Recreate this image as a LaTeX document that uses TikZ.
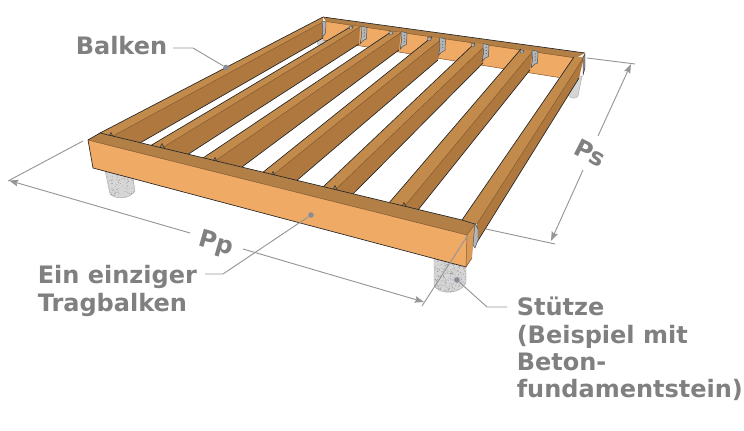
\documentclass[tikz,border=0pt]{standalone}
\usepackage{fontspec}
\setmainfont{DejaVu Sans}
\usetikzlibrary{arrows.meta}
\definecolor{woodlight}{HTML}{EFAA66}
\definecolor{woodtop}{HTML}{C28B4C}
\definecolor{woodside}{HTML}{AE783F}
\definecolor{woodend}{HTML}{D99A58}
\definecolor{woodline}{HTML}{7E5226}
\definecolor{labelgray}{RGB}{128,128,128}
\definecolor{linegray}{RGB}{150,150,150}
\definecolor{dotgray}{RGB}{135,140,150}
\definecolor{metal}{RGB}{178,182,185}
\definecolor{concrete}{RGB}{214,214,214}
\tikzset{
  edge/.style={draw=black!85,line width=0.5pt,line join=round},
  softedge/.style={draw=woodline,line width=0.35pt},
  lightface/.style={fill=woodlight},
  hangerpart/.style={draw=black!70,fill=metal,line width=0.35pt,line join=round},
  dimline/.style={draw=linegray,line width=0.7pt},
  dimarrow/.style={dimline,-{Stealth[length=7pt,width=5pt,inset=1.2pt]}},
  leader/.style={draw=linegray,line width=0.7pt},
  leaderdot/.style={circle,fill=dotgray,inner sep=0pt,minimum size=4.2pt},
  lbl/.style={text=labelgray,font=\fontsize{18}{20.4}\selectfont\bfseries,inner sep=0pt,align=left,anchor=north west},
  dimlbl/.style={text=labelgray,font=\fontsize{18}{20.4}\selectfont\bfseries,inner sep=0pt},
  postoutline/.style={draw=black!35,line width=0.3pt},
}
\newcommand{\joistbar}[6]{%
  % #1 front-left  #2 back-left  #3 back-mid  #4 front-mid  #5 back-bottom  #6 front-bottom
  \fill[woodside] #4 -- #3 -- #5 -- #6 -- cycle;
  \fill[woodtop] #1 -- #2 -- #3 -- #4 -- cycle;
  \draw[softedge] #3 -- #4;
  \draw[edge] #1 -- #2;
  \draw[edge] #5 -- #6;
}
\newcommand{\hangerat}[2]{%
  \path[hangerpart] (#1+1,#2-1) -- (#1+7,#2+0.5) -- (#1+6.5,#2+12) .. controls (#1+3,#2+13) and (#1+1.5,#2+15) .. (#1+0,#2+17) -- (#1+1.5,#2+9) -- cycle;
  \fill[black!60] (#1+4.2,#2+3) circle (0.5pt) (#1+4.2,#2+6) circle (0.5pt) (#1+4.2,#2+9) circle (0.5pt);
  \path[hangerpart] (#1-11,#2-1) -- (#1-7,#2-0.5) -- (#1-8,#2+2) -- (#1-10.5,#2+2) -- cycle;
}
\newcommand{\tickat}[2]{%
  \path[draw=black!80,fill=woodside!70!gray,line width=0.35pt] (#1-2.5,#2+1) -- (#1,#2-3.5) -- (#1+2.5,#2+1.5) -- cycle;
}
\newcommand{\specks}[4]{%
  \foreach \k in {1,...,170}{%
    \pgfmathsetmacro{\sx}{#1+rnd*(#3-#1)}%
    \pgfmathsetmacro{\sy}{#2+rnd*(#4-#2)}%
    \fill[black!45] (\sx,\sy) circle (0.28pt);
  }%
}
\begin{document}
\begin{tikzpicture}[x=0.75pt,y=-0.75pt]
\useasboundingbox (0,0) rectangle (744,431);
\pgfmathsetseed{7}

% posts at the back
\path[fill=concrete,postoutline] (316,38) -- (318,45) .. controls (322,48) and (328,47) .. (331,44) -- (331,38) -- cycle;
\path[fill=concrete,postoutline] (570,76) -- (568,95) .. controls (571,99) and (576,99) .. (578,96) -- (582,76) -- cycle;

% back beam
\fill[woodlight] (323,21) -- (576,57) -- (559,77.5) -- (323,40) -- cycle;
\draw[softedge] (323,40) -- (559,77.5);
\fill[woodtop!92!black] (323,17) -- (585,53) -- (576,58) -- (326,21.5) -- cycle;
\draw[edge] (323,17) -- (585,53);
\draw[softedge] (326,21.5) -- (576,58);

% joists
\joistbar{(100,133)}{(323,17)}{(323,22)}{(113,136)}{(323,38)}{(140,143)}
\joistbar{(150,146)}{(352,26)}{(360,27)}{(162,148)}{(359,44)}{(187,155)}
\joistbar{(203,158)}{(391,32)}{(401,32.5)}{(215,161)}{(399,50)}{(242,167)}
\joistbar{(262,173)}{(432,37)}{(443,38)}{(273,175)}{(438,60)}{(295,182)}
\joistbar{(323,187)}{(475,43)}{(487,44)}{(335,190)}{(483,63)}{(353,194)}
\joistbar{(389,203)}{(521,49)}{(533,51)}{(404,207)}{(530,70)}{(418,210)}
\joistbar{(462,220)}{(574,57)}{(584,57)}{(477,224)}{(579,78)}{(474,247)}

% hangers on the back beam
\hangerat{360}{27}
\hangerat{400}{32.5}
\hangerat{438.5}{38.5}
\hangerat{482}{44.5}
\hangerat{531}{51}
\path[hangerpart] (322,21) -- (326,22) -- (325.5,33) -- (322,38) -- (323,30) -- cycle;
\path[draw=black!80,fill=black!45,line width=0.35pt] (583,57) -- (585,54) -- (585,68) -- (583,75) -- cycle;

% small fittings on the main beam
\tickat{111}{136}
\tickat{162}{147}
\tickat{215}{161}
\tickat{273}{175}
\tickat{335}{189}
\tickat{404}{206}

% posts at the front
\begin{scope}
\clip (105,170) -- (110,194) .. controls (116,200) and (130,199) .. (135,191) -- (133,178) -- cycle;
\fill[concrete] (100,165) rectangle (140,202);
\specks{103}{168}{137}{200}
\end{scope}
\path[postoutline] (105,170) -- (110,194) .. controls (116,200) and (130,199) .. (135,191) -- (133,178);
\begin{scope}
\clip (434,258) -- (434,285) .. controls (438,295) and (460,295) .. (466,283) -- (466,265) -- cycle;
\fill[concrete] (430,255) rectangle (470,297);
\specks{432}{256}{468}{295}
\specks{432}{256}{468}{295}
\end{scope}
\path[postoutline] (434,258) -- (434,285) .. controls (438,295) and (460,295) .. (466,283) -- (466,265);

% main carrying beam
\fill[woodlight] (88,140) -- (467,235) -- (466,267) -- (93,168) -- cycle;
\fill[woodtop!92!black] (88,140) -- (100,133) -- (462,220) -- (475,224) -- (467,235) -- cycle;
\fill[woodend] (467,235) -- (475,224) -- (472,258) -- (466,267) -- cycle;
\draw[edge] (100,133) -- (462,220) -- (475,224);
\draw[softedge] (88,140) -- (467,235);
\draw[edge] (88,140) -- (100,133);
\draw[edge] (88,140) -- (93,168) -- (466,267);
\draw[softedge] (467,235) -- (475,224);
\draw[softedge] (467,235) -- (466,267) -- (472,258);
\path[hangerpart] (475,223) -- (478,229) -- (478,240) -- (475,248) -- (473,245) -- cycle;

% coordinates for dimension and leader lines
\coordinate (ppExtA) at (83,141);
\coordinate (ppExtB) at (8,181);
\coordinate (ppTipA) at (9,180.5);
\coordinate (ppEndA) at (190,233);
\coordinate (ppEndB) at (243,249);
\coordinate (ppTipB) at (424,302);
\coordinate (ppExtC) at (422,306);
\coordinate (ppExtD) at (468,235);
\coordinate (psExtA) at (587,58);
\coordinate (psExtB) at (635,64);
\coordinate (psTipA) at (631,64);
\coordinate (psEndA) at (598,136);
\coordinate (psEndB) at (583,170);
\coordinate (psTipB) at (551,241);
\coordinate (psExtC) at (486,229);
\coordinate (psExtD) at (555,244);

% dimensions
\draw[dimline] (ppExtA) -- (ppExtB);
\draw[dimarrow] (ppEndA) -- (ppTipA);
\draw[dimarrow] (ppEndB) -- (ppTipB);
\draw[dimline] (ppExtC) -- (ppExtD);
\draw[dimline] (psExtA) -- (psExtB);
\draw[dimarrow] (psEndA) -- (psTipA);
\draw[dimarrow] (psEndB) -- (psTipB);
\draw[dimline] (psExtC) -- (psExtD);

% labels
\node[lbl] (balken) at (75.5,36) {Balken};
\node[lbl] (tragbalken) at (37.5,265.5) {Ein einziger\\Tragbalken};
\node[lbl] (stuetze) at (516.5,297) {Stütze\\(Beispiel mit\\Beton-\\fundamentstein)};
\node[dimlbl,rotate=-16] (pp) at (216,244) {Pp};
\node[dimlbl,rotate=-27] (ps) at (590,153) {Ps};

% leaders
\node[leaderdot] (balkenDot) at (226,67.5) {};
\node[leaderdot] (tragDot) at (311,215) {};
\node[leaderdot] (stuetzeDot) at (457,280) {};
\coordinate (balkenA) at (173,48);
\coordinate (balkenB) at (193,48);
\coordinate (tragA) at (205,274);
\coordinate (tragB) at (223,274);
\coordinate (stuetzeA) at (507,307);
\coordinate (stuetzeB) at (487,307);
\draw[leader] (balkenA) -- (balkenB) -- (balkenDot);
\draw[leader] (tragA) -- (tragB) -- (tragDot);
\draw[leader] (stuetzeA) -- (stuetzeB) -- (stuetzeDot);
\end{tikzpicture}
\end{document}
